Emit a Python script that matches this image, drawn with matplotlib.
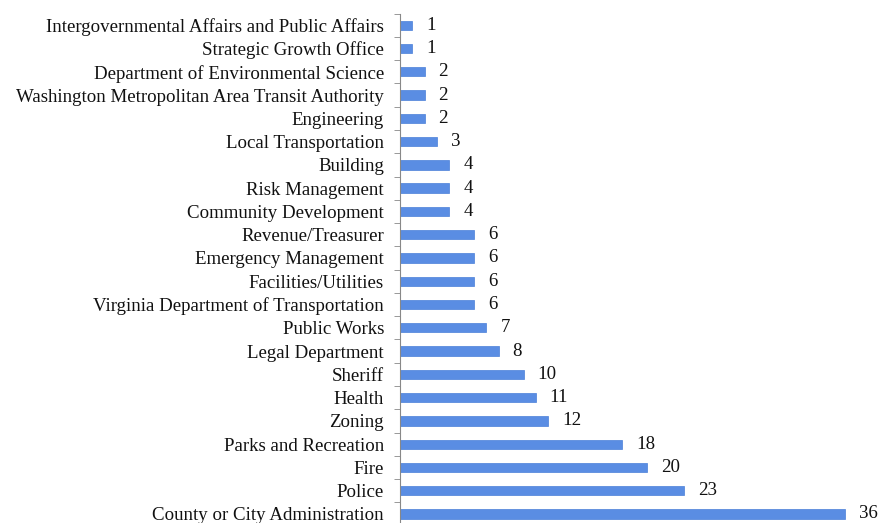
import matplotlib
matplotlib.use('Agg')
import matplotlib.pyplot as plt
import numpy as np

departments = [
    "County or City Administration", "Police", "Fire", "Parks and Recreation",
    "Zoning", "Health", "Sheriff", "Legal Department", "Public Works",
    "Virginia Department of Transportation", "Facilities/Utilities",
    "Emergency Management", "Revenue/Treasurer", "Community Development",
    "Risk Management", "Building", "Local Transportation", "Engineering",
    "Washington Metropolitan Area Transit Authority",
    "Department of Environmental Science", "Strategic Growth Office",
    "Intergovernmental Affairs and Public Affairs",
]
counts = [36, 23, 20, 18, 12, 11, 10, 8, 7, 6, 6, 6, 6, 4, 4, 4, 3, 2, 2, 2, 1, 1]

plt.rcParams['font.family'] = ['Liberation Serif', 'DejaVu Serif']

fig = plt.figure(figsize=(8.8, 5.23), dpi=100, facecolor="white")
n = len(departments)
# axis runs from above the top row to just past the bottom of the image
ax = fig.add_axes([0.4545, -0.005, 0.535, 0.979])

y = np.arange(n)
ax.barh(y, counts, height=0.4, color="#5a8de3", edgecolor="#4a7fd8", linewidth=0.5)
for yi, c in zip(y, counts):
    ax.annotate(str(c), (c, yi), xytext=(10, 0), textcoords="offset points",
                va="center", ha="left", fontsize=13.6, color="#111")

ax.set_xlim(0, 38.1)
ax.set_ylim(-0.5, n - 0.5)
ax.set_yticks(y)
ax.set_yticklabels(departments, fontsize=13.6, color="#111")
ax.set_yticks(np.arange(n + 1) - 0.5, minor=True)
ax.tick_params(axis="y", which="major", length=0, pad=11.5)
ax.tick_params(axis="y", which="minor", length=4, color="#888", direction="out")
ax.set_xticks([])
for s in ["top", "right", "bottom"]:
    ax.spines[s].set_visible(False)
ax.spines["left"].set_color("#888")
ax.spines["left"].set_linewidth(0.8)

plt.savefig("out.png", dpi=100, facecolor="white")
